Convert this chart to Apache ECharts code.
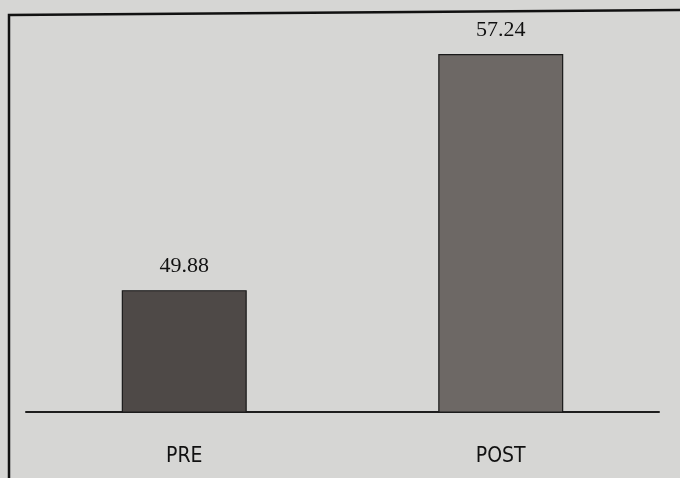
<!DOCTYPE html>
<html>
<head>
<meta charset="utf-8">
<script src="https://cdn.jsdelivr.net/npm/echarts@6/dist/echarts.min.js"></script>
<style>
html,body{margin:0;padding:0;background:#d6d6d4;}
#c{width:680px;height:478px;}
</style>
</head>
<body>
<div id="c"></div>
<script>
const categories = ['PRE', 'POST'];
const values = [49.88, 57.24];
const barColors = ['#4e4947', '#6d6865'];

const chart = echarts.init(document.getElementById('c'));
chart.setOption({
  backgroundColor: '#d6d6d4',
  animation: false,
  grid: { left: 26, right: 21, top: 15, bottom: 66 },
  xAxis: {
    type: 'category',
    data: categories,
    axisLine: { lineStyle: { color: '#1e1e1e', width: 2 } },
    axisTick: { show: false },
    axisLabel: {
      margin: 34,
      fontFamily: '"Liberation Sans Narrow", "DejaVu Sans Condensed", sans-serif',
      fontSize: 21,
      color: '#111'
    }
  },
  yAxis: {
    type: 'value',
    min: 46.08,
    max: 58.46,
    show: false,
    splitLine: { show: false }
  },
  series: [{
    type: 'bar',
    barWidth: 125,
    data: values.map((v, i) => ({ value: v, itemStyle: { color: barColors[i] } })),
    itemStyle: { borderColor: '#1a1a1a', borderWidth: 1.2 },
    label: {
      show: true,
      position: 'top',
      distance: 13,
      formatter: p => p.value.toFixed(2),
      fontFamily: '"Liberation Serif", "DejaVu Serif", serif',
      fontSize: 22,
      color: '#111'
    }
  }],
  graphic: [{
    type: 'polyline',
    shape: { points: [[9, 478], [9, 15], [680, 10]] },
    style: { stroke: '#111', lineWidth: 2.5, fill: null }
  }]
});
</script>
</body>
</html>
